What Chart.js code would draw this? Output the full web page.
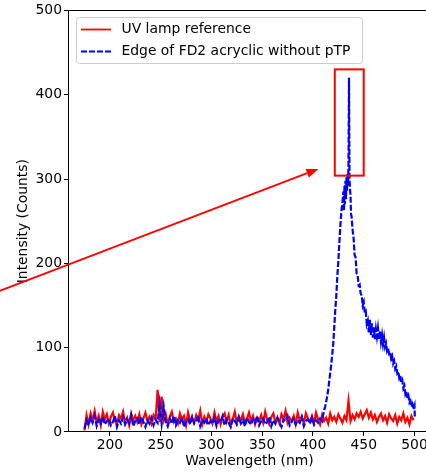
<!DOCTYPE html>
<html><head><meta charset="utf-8">
<script src="https://cdn.jsdelivr.net/npm/chart.js@4/dist/chart.umd.min.js"></script>
<style>
html,body{margin:0;padding:0;background:#fff;overflow:hidden;width:426px;height:472px}
#wrap{width:445px;height:472px}
</style></head><body>
<div id="wrap"><canvas id="c" width="445" height="472"></canvas></div>
<script>
// ---- data ----
const xTicks=[200,250,300,350,400,450,500];
const yTicks=[0,100,200,300,400,500];
const seriesLabels=["UV lamp reference","Edge of FD2 acryclic without pTP"];
const xTitle="Wavelengeth (nm)";
const yTitle="Intensity (Counts)";

// UV lamp: sampled every 2 nm from 175 nm
const lampStart=175, lampStep=2;
const lampCounts=[
 2,20,9,22,14,25,11,19,8,24,15,21,
 10,18,23,13,9,20,16,24,11,17,8,22,14,19,12,21,9,16,23,13,18,10,20,15,
 50,12,42,
 14,21,9,18,24,12,16,10,22,15,19,8,23,13,17,11,20,14,25,9,18,12,21,
 16,10,23,13,19,9,17,22,12,20,8,15,24,11,18,14,21,10,16,23,12,19,9,17,13,
 20,11,24,14,9,18,22,12,16,10,21,15,25,11,17,13,19,9,23,14,18,10,22,16,12,
 19,11,23,15,9,20,13,17,10,22,14,18,12,21,16,11,19,14,
 37,
 13,20,15,22,18,24,16,21,26,17,23,15,20,12,18,22,14,19,11,21,16,13,20,10,18,14,22,12,17,9,19,
 14
];

// FD2 edge: flat part sampled every 2 nm from 175 nm
const fd2BaseStart=175, fd2BaseStep=2;
const fd2BaseCounts=[
 4,14,8,17,11,19,7,15,10,18,9,13,
 16,8,12,19,6,14,10,17,9,15,11,20,7,13,16,9,18,12,6,14,10,17,8,15,11,
 34,10,30,
 12,7,16,10,19,8,14,11,17,6,13,15,9,18,10,12,20,7,14,11,16,8,13,
 10,17,7,14,12,19,8,15,11,6,16,13,9,18,10,14,7,17,12,9,15,11,19,8,13,
 16,9,12,18,7,14,10,17,11,6,15,13,19,8,12,16,9,14,11,18,7,13,15,10,17,
 9,14,11,16,13
];
// FD2 edge: emission peak
const fd2PeakWavelengths=[410,411,412,413,414,415,416,417,418,419,420,421,422,423,424,425,426,427,428,429,430,430.5,431,431.5,432,432.5,433,433.5,434,434.5,435,435.5,436,436.5,437,437.5,438,439,440,441,442,443,444,445,446,447,448,449,450,451,452,453,454,455,456,457,458,459,460,461,462,463,464,465,466,467,468,469,470,471,472,473,474,475,476,477,478,479,480,481,482,483,484,485,486,487,488,489,490,491,492,493,494,495,496,497,498,499,500,500.3];
const fd2PeakCounts=[20,26,30,36,42,50,60,70,80,92,105,125,145,162,185,203,225,245,262,272,285,262,292,270,298,276,302,286,306,292,318,420,300,288,280,258,256,240,230,210,207,188,186,174,175,164,162,150,154,141,143,128,132,118,133,115,129,112,124,110,122,113,123,110,120,107,115,104,112,101,105,96,99,93,95,87,90,81,84,75,78,70,72,64,67,58,61,52,55,45,48,40,43,35,37,30,33,27,31,18];

// annotations
const boxWavelengths=[421.5,450];
const boxCounts=[304,430];
const arrowWavelengths=[80,405.4];
const arrowCounts=[162,312];

// ---- build datasets ----
const lampData=lampCounts.map((v,i)=>({x:lampStart+lampStep*i,y:v}));
const fd2Data=fd2BaseCounts.map((v,i)=>({x:fd2BaseStart+fd2BaseStep*i,y:v}))
  .concat(fd2PeakWavelengths.map((w,i)=>({x:w,y:fd2PeakCounts[i]})));

const FONT='"DejaVu Sans", sans-serif';
const FS=13.9;

const overlay={
  id:'overlay',
  afterDatasetsDraw(chart){
    const {ctx,chartArea:a,scales:{x,y}}=chart;
    ctx.save();
    ctx.strokeStyle='#000';ctx.lineWidth=1;
    const L=Math.round(a.left)+0.5,T=Math.round(a.top)+0.5,R=Math.round(a.right)+0.5,B=Math.round(a.bottom)-0.5;
    ctx.strokeRect(L,T,R-L,B-T);
    ctx.strokeStyle='#ff0000';ctx.lineWidth=2;
    const bx0=x.getPixelForValue(boxWavelengths[0]),bx1=x.getPixelForValue(boxWavelengths[1]);
    const by0=y.getPixelForValue(boxCounts[0]),by1=y.getPixelForValue(boxCounts[1]);
    ctx.strokeRect(bx0,by1,bx1-bx0,by0-by1);
    const ax0=x.getPixelForValue(arrowWavelengths[0]),ay0=y.getPixelForValue(arrowCounts[0]);
    const ax1=x.getPixelForValue(arrowWavelengths[1]),ay1=y.getPixelForValue(arrowCounts[1]);
    const ang=Math.atan2(ay1-ay0,ax1-ax0);
    const hl=12,hw=4.5;
    const bxp=ax1-hl*Math.cos(ang),byp=ay1-hl*Math.sin(ang);
    ctx.strokeStyle='#ff0000';ctx.fillStyle='#ff0000';ctx.lineWidth=1.8;
    ctx.beginPath();ctx.moveTo(ax0,ay0);ctx.lineTo(bxp,byp);ctx.stroke();
    ctx.beginPath();
    ctx.moveTo(ax1,ay1);
    ctx.lineTo(bxp+hw*Math.sin(ang),byp-hw*Math.cos(ang));
    ctx.lineTo(bxp-hw*Math.sin(ang),byp+hw*Math.cos(ang));
    ctx.closePath();ctx.fill();
    ctx.restore();
  },
  afterDraw(chart){
    const ctx=chart.ctx;
    ctx.save();
    ctx.fillStyle='rgba(255,255,255,0.8)';ctx.strokeStyle='#cccccc';ctx.lineWidth=1;
    ctx.beginPath();ctx.roundRect(76.5,17.5,286,46,3);ctx.fill();ctx.stroke();
    const rows=[29.5,51.5];
    chart.data.datasets.forEach((ds,i)=>{
      ctx.strokeStyle=ds.borderColor;ctx.lineWidth=1.8;
      ctx.setLineDash(ds.borderDash||[]);
      ctx.beginPath();ctx.moveTo(81,rows[i]);ctx.lineTo(111,rows[i]);ctx.stroke();
      ctx.setLineDash([]);
      ctx.fillStyle='#000';ctx.font=FS+'px '+FONT;ctx.textBaseline='middle';ctx.textAlign='left';
      ctx.fillText(ds.label,121.5,rows[i]);
    });
    ctx.restore();
  }
};

new Chart(document.getElementById('c'),{
  type:'line',
  data:{datasets:[
    {label:seriesLabels[0],data:lampData,borderColor:'#ff0000',borderWidth:2.2,pointRadius:0,tension:0,order:1},
    {label:seriesLabels[1],data:fd2Data,borderColor:'#0000ff',borderWidth:2.2,borderDash:[6,2],pointRadius:0,tension:0,order:0}
  ]},
  options:{
    responsive:false,animation:false,devicePixelRatio:1,
    layout:{padding:{top:10,left:0,right:14,bottom:0}},
    plugins:{legend:{display:false},tooltip:{enabled:false}},
    scales:{
      x:{type:'linear',min:158.75,max:516.25,
        afterBuildTicks:s=>{s.ticks=xTicks.map(v=>({value:v}));},
        afterFit:s=>{s.height=40;},
        grid:{display:true,drawOnChartArea:false,drawTicks:true,tickLength:4,color:'#000',tickColor:'#000',tickWidth:1},
        border:{display:false},
        ticks:{color:'#000',padding:1,maxRotation:0,autoSkip:false,font:{family:FONT,size:FS}},
        title:{display:true,text:xTitle,color:'#000',font:{family:FONT,size:FS},padding:{top:0,bottom:2}}
      },
      y:{type:'linear',min:0,max:500,
        afterBuildTicks:s=>{s.ticks=yTicks.map(v=>({value:v}));},
        afterFit:s=>{s.width=68;},
        grid:{display:true,drawOnChartArea:false,drawTicks:true,tickLength:4,color:'#000',tickColor:'#000',tickWidth:1},
        border:{display:false},
        ticks:{color:'#000',padding:2,font:{family:FONT,size:FS}},
        title:{display:true,text:yTitle,color:'#000',font:{family:FONT,size:FS},padding:{top:15.5,bottom:0}}
      }
    }
  },
  plugins:[overlay]
});
</script></body></html>
